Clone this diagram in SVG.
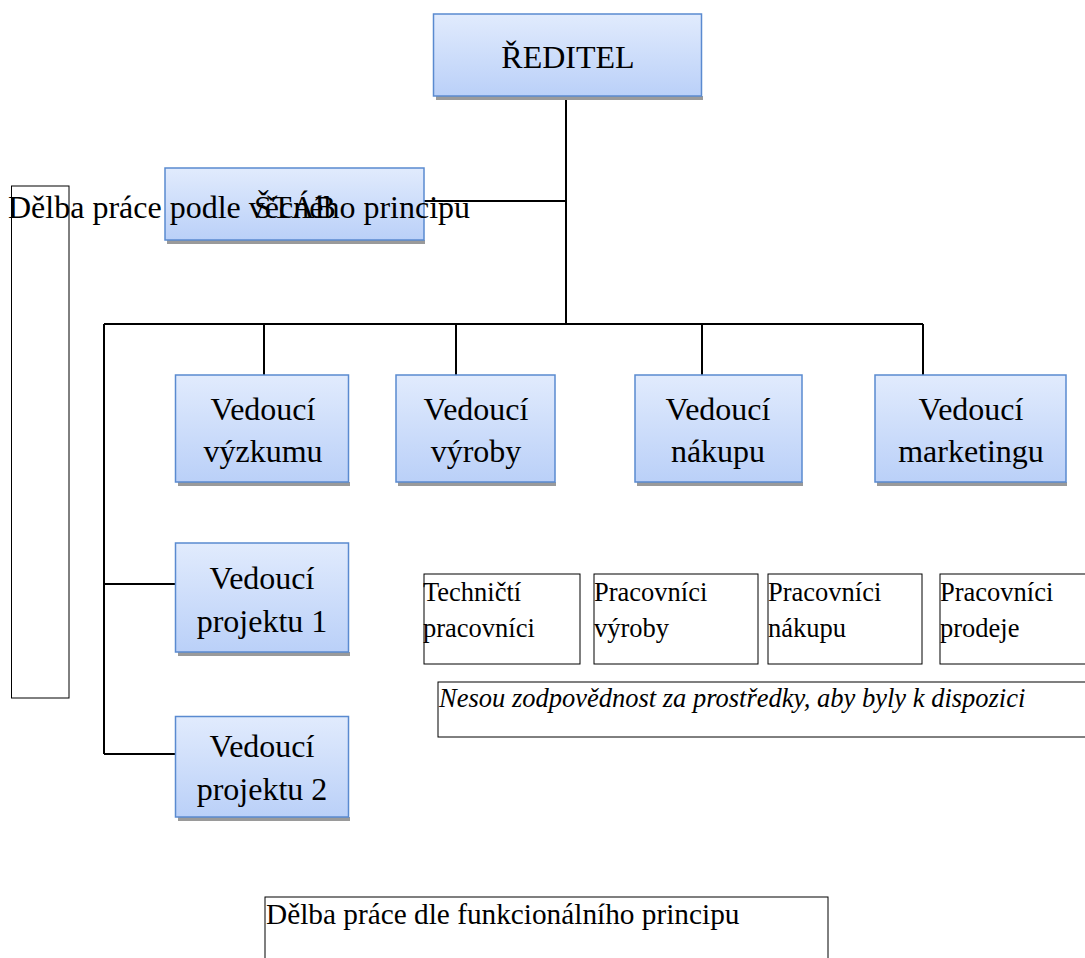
<svg xmlns="http://www.w3.org/2000/svg" width="1085" height="958" viewBox="0 0 1085 958">
  <defs>
    <linearGradient id="boxFill" x1="0" y1="0" x2="0" y2="1">
      <stop offset="0" stop-color="#e1ebfd"/>
      <stop offset="1" stop-color="#bad0f8"/>
    </linearGradient>
    <style>
      .box { fill: url(#boxFill); stroke: #5a8ad0; stroke-width: 1.5; }
      .shadow { fill: #9a9a9a; }
      .plain { fill: #ffffff; stroke: #000000; stroke-width: 1; }
      .conn { fill: none; stroke: #000000; stroke-width: 2; }
      .big { font-family: "Liberation Serif", "Times New Roman", serif; font-size: 32px; fill: #000; text-anchor: middle; }
      .small { font-family: "Liberation Serif", "Times New Roman", serif; font-size: 26.5px; fill: #000; }
      .note { font-family: "Liberation Serif", "Times New Roman", serif; font-size: 26.5px; font-style: italic; fill: #000; }
      .label { font-family: "Liberation Serif", "Times New Roman", serif; font-size: 32px; fill: #000; }
      .caption { font-family: "Liberation Serif", "Times New Roman", serif; font-size: 29.3px; fill: #000; }
    </style>
  </defs>
  <rect width="1085" height="958" fill="#ffffff"/>

  <!-- side frame (vertical caption box) -->
  <g id="side-frame">
    <rect class="plain" x="11.5" y="186" width="57.5" height="512"/>
  </g>

  <!-- connectors -->
  <g id="connectors">
    <path class="conn" d="M566 97 V324"/>
    <path class="conn" d="M424 201 H566"/>
    <path class="conn" d="M104 324 H923"/>
    <path class="conn" d="M264 324 V375"/>
    <path class="conn" d="M456 324 V375"/>
    <path class="conn" d="M702 324 V375"/>
    <path class="conn" d="M923 324 V375"/>
    <path class="conn" d="M104 324 V754"/>
    <path class="conn" d="M104 584 H176"/>
    <path class="conn" d="M104 754 H176"/>
  </g>

  <g id="reditel">
    <rect class="shadow" x="436" y="96" width="267" height="4"/>
    <rect class="box" x="433.5" y="14" width="268" height="82"/>
    <text class="big" x="568" y="68">ŘEDITEL</text>
  </g>

  <g id="stab">
    <rect class="shadow" x="167" y="240" width="258" height="4"/>
    <rect class="box" x="165" y="168" width="259" height="72"/>
    <text class="big" x="295" y="218">ŠTÁB</text>
  </g>

  <g id="side-caption">
    <text class="label" x="8" y="218">Dělba práce podle věcného principu</text>
  </g>

  <g id="vyzkum">
    <rect class="shadow" x="178" y="482" width="172" height="4"/>
    <rect class="box" x="175.5" y="375" width="173" height="107"/>
    <text class="big" x="263" y="420">Vedoucí</text>
    <text class="big" x="263" y="462">výzkumu</text>
  </g>

  <g id="vyroba">
    <rect class="shadow" x="398" y="482" width="158" height="4"/>
    <rect class="box" x="396" y="375" width="159" height="107"/>
    <text class="big" x="476" y="420">Vedoucí</text>
    <text class="big" x="476" y="462">výroby</text>
  </g>

  <g id="nakup">
    <rect class="shadow" x="637" y="482" width="166" height="4"/>
    <rect class="box" x="635" y="375" width="167" height="107"/>
    <text class="big" x="718" y="420">Vedoucí</text>
    <text class="big" x="718" y="462">nákupu</text>
  </g>

  <g id="marketing">
    <rect class="shadow" x="877" y="482" width="190" height="4"/>
    <rect class="box" x="875" y="375" width="191" height="107"/>
    <text class="big" x="971" y="420">Vedoucí</text>
    <text class="big" x="971" y="462">marketingu</text>
  </g>

  <g id="projekt1">
    <rect class="shadow" x="178" y="652" width="172" height="4"/>
    <rect class="box" x="175.5" y="543" width="173" height="109"/>
    <text class="big" x="262" y="589">Vedoucí</text>
    <text class="big" x="262" y="632">projektu 1</text>
  </g>

  <g id="projekt2">
    <rect class="shadow" x="178" y="817" width="172" height="4"/>
    <rect class="box" x="175.5" y="716.5" width="173" height="100.5"/>
    <text class="big" x="262" y="757">Vedoucí</text>
    <text class="big" x="262" y="800">projektu 2</text>
  </g>

  <g id="technicti">
    <rect class="plain" x="424" y="574" width="156" height="90"/>
    <text class="small" x="423" y="601">Techničtí</text>
    <text class="small" x="423" y="637">pracovníci</text>
  </g>

  <g id="pracovnici-vyroby">
    <rect class="plain" x="594" y="574" width="164" height="90"/>
    <text class="small" x="594" y="601">Pracovníci</text>
    <text class="small" x="594" y="637">výroby</text>
  </g>

  <g id="pracovnici-nakupu">
    <rect class="plain" x="768" y="574" width="154" height="90"/>
    <text class="small" x="768" y="601">Pracovníci</text>
    <text class="small" x="768" y="637">nákupu</text>
  </g>

  <g id="pracovnici-prodeje">
    <rect class="plain" x="940" y="574" width="150" height="90"/>
    <text class="small" x="940" y="601">Pracovníci</text>
    <text class="small" x="940" y="637">prodeje</text>
  </g>

  <g id="note">
    <rect class="plain" x="438" y="682" width="652" height="55"/>
    <text class="note" x="439" y="707">Nesou zodpovědnost za prostředky, aby byly k dispozici</text>
  </g>

  <g id="functional-caption">
    <rect class="plain" x="265" y="897" width="563" height="80"/>
    <text class="caption" x="266" y="924">Dělba práce dle funkcionálního principu</text>
  </g>
</svg>
